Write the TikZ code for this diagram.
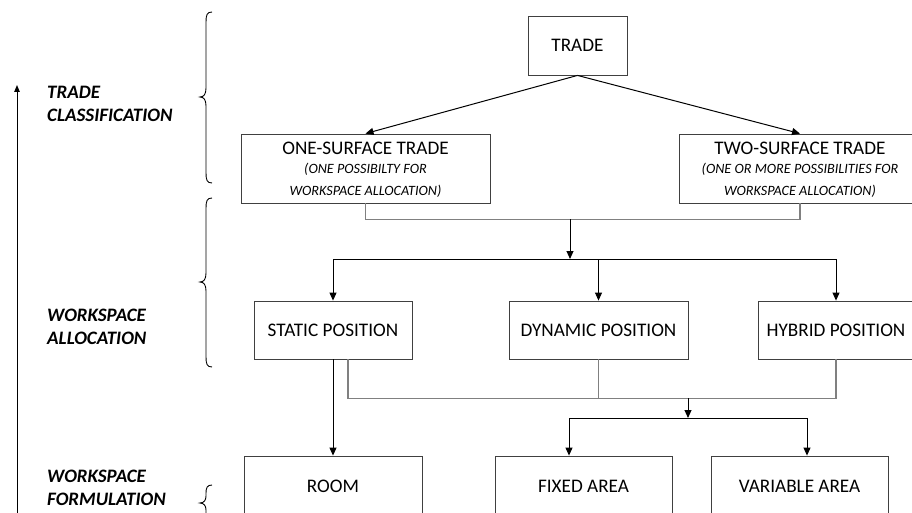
\documentclass[tikz,border=0pt]{standalone}
\usepackage{fontspec}
\setmainfont{Carlito}
\usetikzlibrary{arrows.meta,calc,shadows}
\begin{document}
\begin{tikzpicture}[x=1pt,y=-1pt,
  box/.style={draw=black!75, line width=0.85pt, fill=white, inner sep=0pt,
    drop shadow={shadow xshift=1.4pt, shadow yshift=-1.4pt, fill=black!20, opacity=0.8}},
  boxtext/.style={font=\fontsize{19.2}{23}\selectfont, inner sep=0pt},
  subtext/.style={font=\fontsize{14.2}{16}\selectfont\itshape, inner sep=0pt},
  levellabel/.style={font=\fontsize{19}{23}\selectfont\bfseries\itshape,
    align=left, anchor=west, inner sep=0pt},
  flow/.style={line width=1pt, -{Triangle[length=8pt,width=7pt]}},
  link/.style={line width=1pt},
  merge/.style={line width=1.1pt, draw=black!50},
  axisarrow/.style={line width=1pt, -{Triangle[length=7pt,width=5.5pt]}},
  bracket/.style={line width=0.9pt}
]
\useasboundingbox (0,0) rectangle (912,513);
\fill[white] (0,0) rectangle (912,513);

% ---- level 1: trade classification
\node[box, boxtext, minimum width=99pt, minimum height=59pt] (trade) at (577.5,45.5) {TRADE};

\node[box, minimum width=249pt, minimum height=69pt] (one) at (365.5,168.5) {};
\node[boxtext] (onet) at ($(one.north)+(0,15)$) {ONE-SURFACE TRADE};
\node[subtext] (ones1) at ($(one.north)+(0,35.5)$) {(ONE POSSIBILTY FOR};
\node[subtext] (ones2) at ($(one.north)+(0,57.5)$) {WORKSPACE ALLOCATION)};

\node[box, minimum width=242pt, minimum height=69pt] (two) at (800,168.5) {};
\node[boxtext] (twot) at ($(two.north)+(0,15)$) {TWO-SURFACE TRADE};
\node[subtext] (twos1) at ($(two.north)+(0,35.5)$) {(ONE OR MORE POSSIBILITIES FOR};
\node[subtext] (twos2) at ($(two.north)+(0,57.5)$) {WORKSPACE ALLOCATION)};

% ---- level 2: workspace allocation
\node[box, boxtext, minimum width=158pt, minimum height=58pt] (static) at (333,330) {STATIC POSITION};
\node[box, boxtext, minimum width=179pt, minimum height=58pt] (dynamic) at (598.5,330) {DYNAMIC POSITION};
\node[box, boxtext, minimum width=156pt, minimum height=58pt] (hybrid) at (836,330) {HYBRID POSITION};

% ---- level 3: workspace formulation
\node[box, boxtext, minimum width=178pt, minimum height=60pt] (room) at (333,486) {ROOM};
\node[box, boxtext, minimum width=177pt, minimum height=60pt] (fixed) at (583.5,486) {FIXED AREA};
\node[box, boxtext, minimum width=177pt, minimum height=60pt] (variable) at (799.5,486) {VARIABLE AREA};

% ---- junction points
\coordinate (join1) at (570,219);
\coordinate (fork1) at (570,259);
\coordinate (join2) at (688,398);
\coordinate (fork2) at (688,418);
\coordinate (forkl) at (569,418);
\coordinate (forkr) at (807,418);

% ---- connectors
\draw[flow] (trade.south) -- (one.north);
\draw[flow] (trade.south) -- (two.north);
\draw[merge] (one.south) -- ++(0,16) -| (two.south);
\draw[flow] (join1) -- (fork1);
\draw[link] (static.north |- fork1) -- (hybrid.north |- fork1);
\draw[flow] (static.north |- fork1) -- (static.north);
\draw[flow] (dynamic.north |- fork1) -- (dynamic.north);
\draw[flow] (hybrid.north |- fork1) -- (hybrid.north);

\draw[flow] (static.south) -- (room.north);
\draw[merge] ($(static.south)+(15,0)$) -- ++(0,39) -| (hybrid.south);
\draw[merge] (dynamic.south) -- ++(0,39);
\draw[flow] (join2) -- (fork2);
\draw[link] (forkl) -- (forkr);
\draw[flow] (forkl) -- (forkl |- fixed.north);
\draw[flow] (forkr) -- (forkr |- variable.north);

% ---- level axis and labels
\coordinate (axisbot) at (17,513);
\coordinate (axistop) at (17,85);
\draw[axisarrow] (axisbot) -- (axistop);

\node[levellabel] (lab1) at (47,103.5) {TRADE\\CLASSIFICATION};
\node[levellabel] (lab2) at (47,327) {WORKSPACE\\ALLOCATION};
\node[levellabel] (lab3) at (47,487.5) {WORKSPACE\\FORMULATION};

% ---- braces
\draw[bracket] (212,12) .. controls (207,12) and (206,15) .. (206,22) -- (206,88)
  .. controls (206,94) and (204,97) .. (200,97)
  .. controls (204,97) and (206,100) .. (206,106) -- (206,173)
  .. controls (206,180) and (207,183) .. (212,183);
\draw[bracket] (212,198) .. controls (207,198) and (206,201) .. (206,208) -- (206,273)
  .. controls (206,279) and (204,282) .. (200,282)
  .. controls (204,282) and (206,285) .. (206,291) -- (206,357)
  .. controls (206,364) and (207,367) .. (212,367);
\draw[bracket] (212,485) .. controls (207,485) and (206,488) .. (206,493) -- (206,496)
  .. controls (206,500) and (204,503) .. (200,503)
  .. controls (204,503) and (206,506) .. (206,510) -- (206,513)
  .. controls (206,518) and (207,521) .. (212,521);
\end{tikzpicture}
\end{document}
